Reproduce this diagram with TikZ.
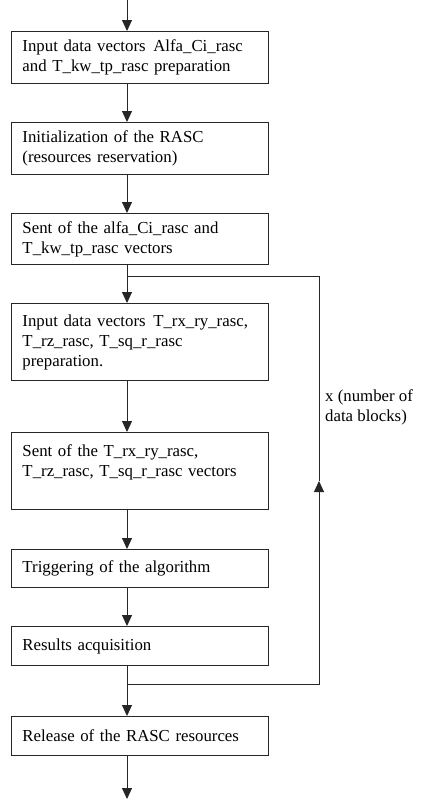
\documentclass[tikz,border=0pt]{standalone}
\usepackage{fontspec}
\setmainfont{Liberation Serif}
\usepackage{tikz}
\usetikzlibrary{positioning, arrows.meta}

\begin{document}
\begin{tikzpicture}[
    x=1pt, y=1pt,
    node distance=38pt,
    box/.style={rectangle, draw=black!85, line width=1pt, minimum width=257pt, text width=235pt, inner xsep=11pt, inner ysep=0pt, align=left, font=\fontsize{16.8}{20}\selectfont},
    flow/.style={draw=black!85, line width=1pt, -{Triangle[length=11pt,width=10pt]}}
]
\useasboundingbox (0,0) rectangle (422,-801);

\coordinate (spine) at (127,0);

\node[box, minimum height=52pt, anchor=north west] (input) at (11,-31) {Input data vectors\hspace{2pt} Alfa\_Ci\_rasc\\and T\_kw\_tp\_rasc preparation};
\node[box, minimum height=52pt, below=of input] (init) {Initialization of the RASC\\(resources reservation)};
\node[box, minimum height=51pt, below=of init] (sent) {Sent of the alfa\_Ci\_rasc and\\T\_kw\_tp\_rasc vectors};
\node[box, minimum height=77pt, below=of sent] (prep) {Input data vectors\hspace{2pt} T\_rx\_ry\_rasc,\\T\_rz\_rasc, T\_sq\_r\_rasc\\preparation.};
\node[box, minimum height=77pt, below=51pt of prep] (sentblock) {Sent of the T\_rx\_ry\_rasc,\\T\_rz\_rasc, T\_sq\_r\_rasc vectors\\\mbox{}};
\node[box, minimum height=38pt, below=39pt of sentblock] (trigger) {Triggering of the algorithm};
\node[box, minimum height=39pt, below=of trigger] (results) {Results acquisition};
\node[box, minimum height=39pt, below=50pt of results] (release) {Release of the RASC resources};

\node[anchor=west, align=left, font=\fontsize{16.8}{20}\selectfont, inner sep=0pt] (loops) at (325,-407) {x (number of\\data blocks)};

\coordinate (start) at (127,0);
\coordinate (stop) at (127,-799);
\coordinate (split) at (127,-276);
\coordinate (join) at (127,-684);
\coordinate (back) at (319,-481);

\draw[flow] (start) -- (input.north -| spine);
\draw[flow] (input.south -| spine) -- (init.north -| spine);
\draw[flow] (init.south -| spine) -- (sent.north -| spine);
\draw[flow] (sent.south -| spine) -- (prep.north -| spine);
\draw[flow] (prep.south -| spine) -- (sentblock.north -| spine);
\draw[flow] (sentblock.south -| spine) -- (trigger.north -| spine);
\draw[flow] (trigger.south -| spine) -- (results.north -| spine);
\draw[flow] (results.south -| spine) -- (release.north -| spine);
\draw[flow] (release.south -| spine) -- (stop);

% loop back
\draw[flow] (join) -| (back);
\draw[draw=black!85, line width=1pt] (back) |- (split);

\end{tikzpicture}
\end{document}
